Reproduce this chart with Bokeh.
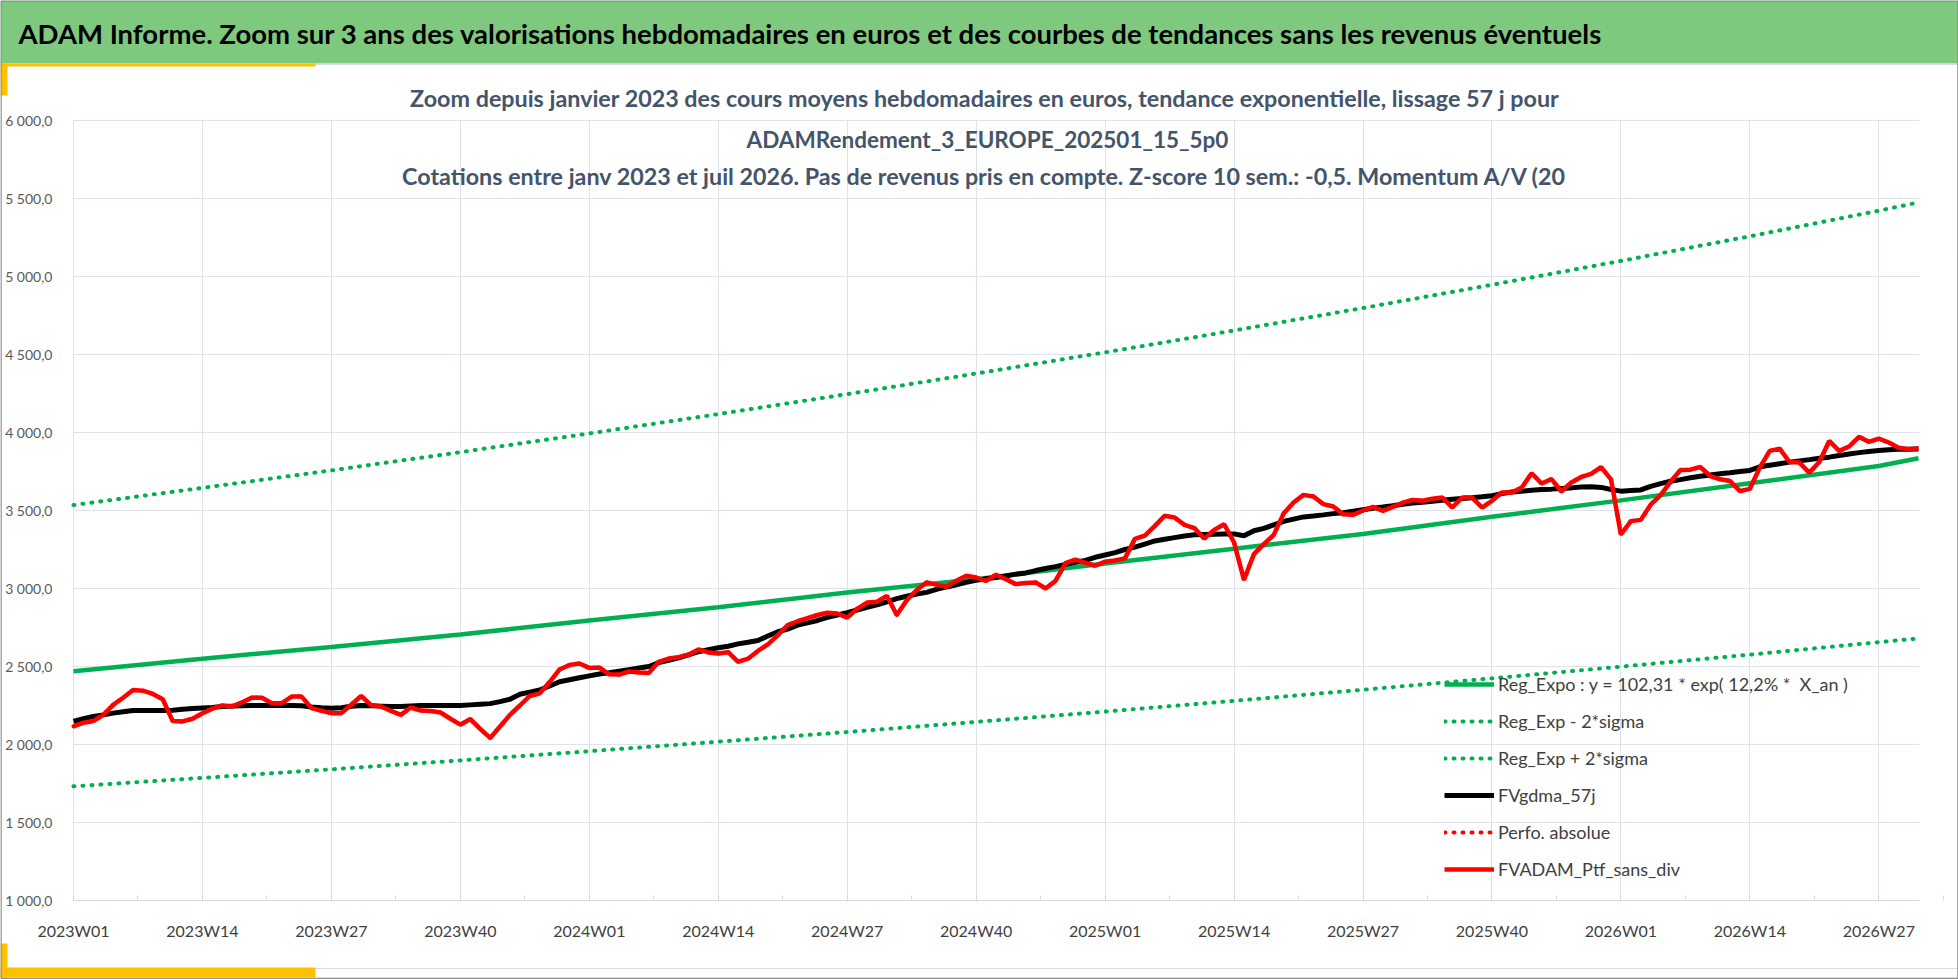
from bokeh.plotting import figure
from bokeh.models import Range1d, FixedTicker, Legend, LegendItem
from bokeh.core.properties import value
from bokeh.embed import file_html
from bokeh.resources import INLINE

# weekly categories, 2023W01 .. 2026W31
weeks = [f"{y}W{w:02d}" for y, n in ((2023, 52), (2024, 52), (2025, 52), (2026, 31))
         for w in range(1, n + 1)]

# FVADAM_Ptf_sans_div (red), one value per week
fvadam = [
    2116, 2140, 2150, 2190, 2254, 2300, 2349, 2345, 2324, 2290, 2150, 2148, 2165,
    2200, 2230, 2250, 2244, 2270, 2301, 2299, 2265, 2265, 2307, 2307, 2233, 2216,
    2201, 2201, 2255, 2311, 2252, 2244, 2215, 2190, 2237, 2218, 2215, 2205, 2165,
    2127, 2163, 2100, 2042, 2115, 2190, 2250, 2311, 2328, 2400, 2481, 2510, 2519,
    2491, 2494, 2450, 2448, 2468, 2462, 2459, 2530, 2551, 2560, 2575, 2609, 2590,
    2584, 2592, 2530, 2550, 2600, 2642, 2700, 2766, 2790, 2810, 2830, 2845, 2840,
    2813, 2870, 2910, 2915, 2953, 2830, 2925, 2990, 3039, 3025, 3011, 3050, 3082,
    3070, 3049, 3088, 3060, 3028, 3035, 3039, 3000, 3049, 3163, 3185, 3165, 3146,
    3172, 3180, 3193, 3318, 3339, 3400, 3466, 3455, 3408, 3387, 3320, 3376, 3412,
    3295, 3055, 3220, 3284, 3344, 3481, 3551, 3600, 3590, 3541, 3526, 3476, 3472,
    3500, 3523, 3498, 3523, 3550, 3568, 3562, 3575, 3583, 3519, 3583, 3583, 3519,
    3562, 3615, 3615, 3647, 3739, 3673, 3701, 3622, 3680, 3715, 3735, 3778, 3700,
    3346, 3432, 3440, 3537, 3598, 3684, 3760, 3762, 3779, 3721, 3700, 3689, 3624,
    3639, 3775, 3882, 3897, 3811, 3807, 3742, 3811, 3946, 3882, 3910, 3972, 3940,
    3961, 3936, 3903, 3893, 3899,
]

# FVgdma_57j (black, smoothed)
fvgdma = [
    2148, 2165, 2180, 2190, 2201, 2210, 2218, 2218, 2218, 2218, 2220, 2226, 2230,
    2234, 2238, 2244, 2246, 2248, 2250, 2250, 2250, 2250, 2250, 2248, 2240, 2235,
    2233, 2236, 2245, 2250, 2248, 2246, 2244, 2244, 2247, 2250, 2250, 2250, 2250,
    2250, 2254, 2258, 2262, 2275, 2290, 2322, 2336, 2349, 2375, 2402, 2415, 2428,
    2440, 2452, 2460, 2470, 2480, 2490, 2500, 2525, 2539, 2555, 2575, 2595, 2608,
    2620, 2630, 2645, 2655, 2667, 2695, 2723, 2740, 2765, 2780, 2795, 2815, 2830,
    2845, 2862, 2880, 2895, 2915, 2935, 2950, 2965, 2975, 2995, 3010, 3024, 3040,
    3052, 3062, 3070, 3080, 3092, 3100, 3115, 3128, 3140, 3155, 3168, 3180, 3200,
    3215, 3230, 3250, 3265, 3285, 3305, 3316, 3326, 3336, 3344, 3346, 3348, 3350,
    3350, 3338, 3370, 3385, 3408, 3430, 3445, 3459, 3465, 3472, 3480, 3486, 3495,
    3505, 3515, 3522, 3530, 3540, 3548, 3553, 3560, 3566, 3572, 3577, 3582, 3588,
    3595, 3608, 3618, 3624, 3630, 3634, 3637, 3641, 3645, 3650, 3652, 3648, 3635,
    3624, 3628, 3632, 3655, 3672, 3688, 3698, 3710, 3720, 3728, 3735, 3742, 3750,
    3757, 3780, 3790, 3800, 3810, 3818, 3826, 3835, 3842, 3852, 3862, 3871, 3878,
    3885, 3890, 3892, 3893, 3894,
]

# trend curves, read at every labelled week and at the last week
trend_weeks = ["2023W01", "2023W14", "2023W27", "2023W40", "2024W01", "2024W14", "2024W27",
               "2024W40", "2025W01", "2025W14", "2025W27", "2025W40", "2026W01", "2026W14",
               "2026W27", "2026W31"]
reg_expo = [2470, 2550, 2625, 2705, 2795, 2880, 2975, 3060, 3160, 3255, 3350, 3460,
            3565, 3675, 3785, 3835]
reg_plus = [3535, 3645, 3757, 3874, 3994, 4118, 4246, 4378, 4514, 4654, 4798, 4947,
            5100, 5258, 5422, 5475]
reg_minus = [1732, 1786, 1841, 1898, 1957, 2018, 2080, 2145, 2211, 2280, 2351, 2424,
             2499, 2576, 2656, 2680]

x_labels = trend_weeks[:-1]
y_ticks = [1000, 1500, 2000, 2500, 3000, 3500, 4000, 4500, 5000, 5500, 6000]
y_labels = ["1 000,0", "1 500,0", "2 000,0", "2 500,0", "3 000,0", "3 500,0",
            "4 000,0", "4 500,0", "5 000,0", "5 500,0", "6 000,0"]

header = ("ADAM Informe. Zoom sur 3 ans des valorisations hebdomadaires en euros et des "
          "courbes de tendances sans les revenus éventuels")
subtitle = [
    "Zoom depuis janvier 2023 des cours moyens hebdomadaires  en euros, tendance exponentielle, lissage 57 j pour",
    "ADAMRendement_3_EUROPE_202501_15_5p0",
    "Cotations  entre janv 2023 et juil 2026. Pas de revenus pris en compte. Z-score 10 sem.: -0,5. Momentum A/V (20",
]

idx = {w: i for i, w in enumerate(weeks)}
xs = list(range(len(weeks)))
txs = [idx[w] for w in trend_weeks]
last = len(weeks) - 1

FONT = "Lato"
GREEN = "#00B050"
TITLE_COLOR = "#44546A"
GRID = "#DFE2E8"
W, H = 1958, 979

# the plot area sits at page pixels x 73..1918, y 120..900; the frame fills the whole
# canvas so that the banner and the titles can be drawn as glyphs
SX = 1845 / last
SY = 780 / 5000


def px(x):
    return (x - 73) / SX


def py(y):
    return 6000 - (y - 120) / SY


p = figure(width=W, height=H, output_backend="svg", toolbar_location=None,
           x_range=Range1d(px(0), px(W)), y_range=Range1d(py(H), py(0)),
           min_border_left=0, min_border_right=0, min_border_top=0, min_border_bottom=0)
p.outline_line_color = None

# axes drawn at the edges of the plot area
xt = FixedTicker(ticks=[idx[w] for w in x_labels],
                 minor_ticks=[idx[w] + 6.5 for w in x_labels])
p.xaxis.ticker = xt
p.xaxis.fixed_location = 1000
p.xaxis.bounds = (0, last)
p.xaxis.major_label_overrides = {idx[w]: w for w in x_labels}
p.xaxis.axis_line_color = "#D9D9D9"
p.xaxis.major_tick_line_color = "#D9D9D9"
p.xaxis.minor_tick_line_color = "#D9D9D9"
p.xaxis.major_tick_in = 5
p.xaxis.major_tick_out = 0
p.xaxis.minor_tick_in = 5
p.xaxis.minor_tick_out = 0
p.xaxis.major_label_standoff = 20
p.xaxis.major_label_text_font = FONT
p.xaxis.major_label_text_font_size = "16px"
p.xaxis.major_label_text_color = "#404040"

p.yaxis.ticker = FixedTicker(ticks=y_ticks)
p.yaxis.fixed_location = 0
p.yaxis.bounds = (1000, 6000)
p.yaxis.major_label_overrides = dict(zip(y_ticks, y_labels))
p.yaxis.axis_line_color = None
p.yaxis.major_tick_line_color = None
p.yaxis.minor_tick_line_color = None
p.yaxis.major_label_standoff = 15
p.yaxis.major_label_text_font = FONT
p.yaxis.major_label_text_font_size = "14px"
p.yaxis.major_label_text_color = "#595959"

p.xgrid.ticker = xt
p.xgrid.grid_line_color = GRID
p.ygrid.grid_line_color = GRID

# white margins around the plot area hide the grid outside it
X0, X1, Y0, Y1 = px(0), px(W), py(H), py(0)
p.quad(left=[X0, X0, X0, px(1919)], right=[px(72.5), X1, X1, X1],
       bottom=[Y0, py(119.4), Y0, Y0], top=[Y1, Y1, py(901), Y1],
       fill_color="white", line_color=None)

# banner and page decorations
p.quad(left=[X0], right=[X1], top=[Y1], bottom=[py(63)], fill_color="#7FC97F", line_color=None)
p.quad(left=[px(315), px(315)], right=[X1, X1], top=[py(63.5), py(967.5)],
       bottom=[py(64.5), py(968.5)], fill_color="#D9D9D9", line_color=None)
p.quad(left=[X0, X0, X0, X0], right=[px(315), px(7), px(315), px(7)],
       top=[py(63), py(63), py(967), py(943)], bottom=[py(66), py(95), py(977), py(977)],
       fill_color="#FFC000", line_color=None)
p.quad(left=[px(0.5)], right=[px(W - 0.5)], top=[py(0.5)], bottom=[py(H - 1)],
       fill_alpha=0, line_color="#8C8C8C", line_width=1.5)

p.text(x=[px(18)], y=[py(33)], text=[header], text_font=value(FONT), text_font_size="27.5px",
       text_font_style="bold", text_color="black", text_baseline="middle")
for t, yy, fs in zip(subtitle, (97, 139, 175), ("23.3px", "22.5px", "23.3px")):
    p.text(x=[px(987)], y=[py(yy)], text=[t], text_font=value(FONT), text_font_size=fs,
           text_font_style="bold", text_color=TITLE_COLOR, text_align="center",
           text_baseline="middle")

# series
r_plus = p.line(txs, reg_plus, line_color=GREEN, line_width=4, line_dash="1 8", line_cap="round")
r_minus = p.line(txs, reg_minus, line_color=GREEN, line_width=4, line_dash="1 8", line_cap="round")
r_reg = p.line(txs, reg_expo, line_color=GREEN, line_width=4.5)
r_gdma = p.line(xs, fvgdma, line_color="black", line_width=5)
r_perf = p.line(xs, fvadam, line_color="#FF0000", line_width=4, line_dash="1 8", line_cap="round")
r_ptf = p.line(xs, fvadam, line_color="#FF0000", line_width=4.5)

legend = Legend(items=[
    LegendItem(label="Reg_Expo : y = 102,31 * exp( 12,2% *  X_an )", renderers=[r_reg]),
    LegendItem(label="Reg_Exp - 2*sigma", renderers=[r_minus]),
    LegendItem(label="Reg_Exp + 2*sigma", renderers=[r_plus]),
    LegendItem(label="FVgdma_57j", renderers=[r_gdma]),
    LegendItem(label="Perfo. absolue", renderers=[r_perf]),
    LegendItem(label="FVADAM_Ptf_sans_div", renderers=[r_ptf]),
], location=(1444, 98), orientation="vertical")
legend.background_fill_alpha = 0
legend.border_line_alpha = 0
legend.padding = 0
legend.margin = 0
legend.spacing = 13
legend.glyph_width = 50
legend.glyph_height = 24
legend.label_height = 24
legend.label_standoff = 4
legend.label_text_font = FONT
legend.label_text_font_size = "18px"
legend.label_text_color = "#404040"
p.add_layout(legend)

open("out.html", "w").write(file_html(p, INLINE))
